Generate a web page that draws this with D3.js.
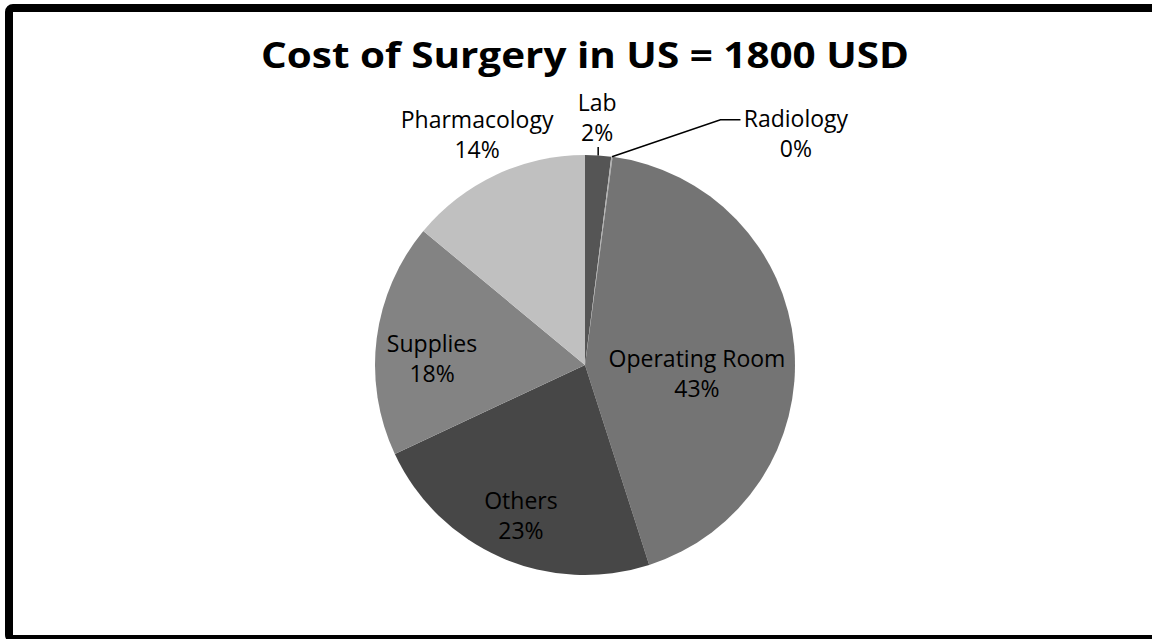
<!DOCTYPE html>
<html>
<head>
<meta charset="utf-8">
<script src="https://cdn.jsdelivr.net/npm/d3@7"></script>
<style>
  html, body { margin: 0; padding: 0; background: #ffffff; }
  svg { display: block; }
</style>
</head>
<body>
<svg id="chart" width="1152" height="639"></svg>
<script>
// ---- data ----
const title = "Cost of Surgery in US = 1800 USD";
const categories = ["Lab", "Radiology", "Operating Room", "Others", "Supplies", "Pharmacology"];
const values = [2.0, 0.1, 43.0, 23.0, 18.0, 14.0];
const colors = ["#555555", "#b0b0b0", "#747474", "#474747", "#838383", "#c0c0c0"];

// ---- layout (not data) ----
const W = 1152, H = 639;
const cx = 585, cy = 365, R = 210;
// label placement: radius factor and angle (deg, clockwise from top) offset from slice middle
const labelLayout = {
  "Lab":            { rf: 1.178, da: -0.8, leader: "tick" },
  "Radiology":      { rf: 1.49,  da: 35.0, leader: "elbow" },
  "Operating Room": { rf: 0.535, da: 9.7 },
  "Others":         { rf: 0.779, da: -0.5 },
  "Supplies":       { rf: 0.729, da: -5.0 },
  "Pharmacology":   { rf: 1.208, da: 0.0 }
};
const fontFamily = "'Open Sans', 'Liberation Sans', sans-serif";
const labelSize = 23;
const lineGap = 30;

const svg = d3.select("#chart");

// background + border
svg.append("rect").attr("x", 0).attr("y", 0).attr("width", W).attr("height", H).attr("fill", "#ffffff");
svg.append("rect")
  .attr("x", 9).attr("y", 8).attr("width", 1160).attr("height", 631)
  .attr("rx", 4).attr("ry", 4)
  .attr("fill", "none").attr("stroke", "#000").attr("stroke-width", 8);

// title
svg.append("text")
  .attr("x", cx).attr("y", 68)
  .attr("text-anchor", "middle")
  .attr("font-family", fontFamily)
  .attr("font-weight", "bold")
  .attr("font-size", 35)
  .attr("textLength", 648)
  .attr("lengthAdjust", "spacingAndGlyphs")
  .attr("fill", "#000")
  .text(title);

const data = categories.map((c, i) => ({ name: c, value: values[i], color: colors[i] }));
const total = d3.sum(values);

const pie = d3.pie().sort(null).value(d => d.value);
const arcs = pie(data);
const arc = d3.arc().innerRadius(0).outerRadius(R);

const g = svg.append("g").attr("transform", `translate(${cx},${cy})`);

g.selectAll("path.slice")
  .data(arcs)
  .join("path")
  .attr("class", "slice")
  .attr("d", arc)
  .attr("fill", d => d.data.color);

function polar(angleRad, r) {
  return [Math.sin(angleRad) * r, -Math.cos(angleRad) * r];
}

arcs.forEach(a => {
  const lay = labelLayout[a.data.name];
  const mid = (a.startAngle + a.endAngle) / 2;
  const ang = mid + lay.da * Math.PI / 180;
  const [lx, ly] = polar(ang, lay.rf * R);
  const pct = Math.round(a.data.value / total * 100) + "%";

  const t = g.append("text")
    .attr("text-anchor", "middle")
    .attr("font-family", fontFamily)
    .attr("font-size", labelSize)
    .attr("fill", "#000");
  const b1 = ly - lineGap / 2 + 8;
  t.append("tspan").attr("x", lx).attr("y", b1).text(a.data.name);
  t.append("tspan").attr("x", lx).attr("y", b1 + lineGap).text(pct);

  if (lay.leader === "tick") {
    const [ex, ey] = polar(mid, R);
    g.append("line")
      .attr("x1", ex).attr("y1", ey)
      .attr("x2", ex).attr("y2", b1 + lineGap + 6)
      .attr("stroke", "#000").attr("stroke-width", 1.5);
  } else if (lay.leader === "elbow") {
    const [ex, ey] = polar(mid, R);
    const w = t.node().getBBox().width;
    const endX = lx - w / 2 - 3;
    const endY = b1 - 7;
    g.append("polyline")
      .attr("points", [[ex, ey], [endX - 20, endY], [endX, endY]].map(p => p.join(",")).join(" "))
      .attr("fill", "none")
      .attr("stroke", "#000").attr("stroke-width", 1.5);
  }
});
</script>
</body>
</html>
